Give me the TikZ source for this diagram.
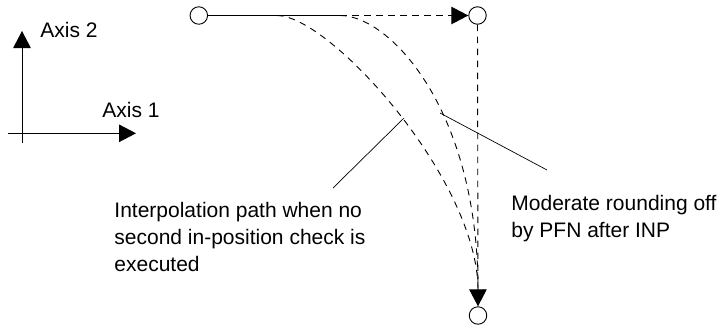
\documentclass[tikz,border=0pt]{standalone}
\usepackage{fontspec}
\setmainfont{Liberation Sans}
\usetikzlibrary{arrows.meta}
\begin{document}
\begin{tikzpicture}[x=1pt,y=-1pt,
  line width=0.9pt,
  pt/.style={circle,draw,fill=white,minimum size=17.5pt,inner sep=0pt,line width=0.9pt},
  tip/.style={-{Triangle[length=17pt,width=17.5pt]}},
  dsh/.style={dash pattern=on 6.5pt off 5.5pt},
  lbl/.style={anchor=base west,inner sep=0pt,font=\fontsize{21}{27}\selectfont},
  leader/.style={line width=0.7pt}]
\useasboundingbox (0,0) rectangle (722,327);
% axes
\coordinate (v0) at (22,143);
\coordinate (v1) at (22,31);
\coordinate (h0) at (8,133.3);
\coordinate (h1) at (136,133.3);
\draw[tip] (v0) -- (v1);
\draw[tip] (h0) -- (h1);
\node[lbl] (ax2) at (40,37) {Axis 2};
\node[lbl] (ax1) at (102,117) {Axis 1};
% points
\node[pt] (s) at (198.8,15.5) {};
\node[pt] (p1) at (477.5,15.5) {};
\node[pt] (p2) at (478,315.5) {};
\coordinate (a0) at (277,15.5);
\coordinate (c1) at (340,15.5);
\coordinate (ab) at (478,290);
% curves
\draw[dsh] (a0) .. controls (330,15.5) and (478,180) .. (ab);
\draw[dsh] (c1) .. controls (390,15.5) and (478,110) .. (ab);
% straight paths
\draw (s) -- (c1);
\draw[dsh,tip] (c1) -- (p1);
\draw[dsh,tip] (p1) -- (p2);
% leaders
\coordinate (l0) at (333,188);
\coordinate (l1) at (404,118);
\coordinate (r0) at (547,170);
\coordinate (r1) at (440,113);
\draw[leader] (l0) -- (l1);
\draw[leader] (r0) -- (r1);
% labels
\node[lbl] (t1) at (114,217) {Interpolation path when no};
\node[lbl] (t2) at (114,244) {second in-position check is};
\node[lbl] (t3) at (114,271) {executed};
\node[lbl] (m1) at (511,210) {Moderate rounding off};
\node[lbl] (m2) at (511,237) {by PFN after INP};
\end{tikzpicture}
\end{document}
